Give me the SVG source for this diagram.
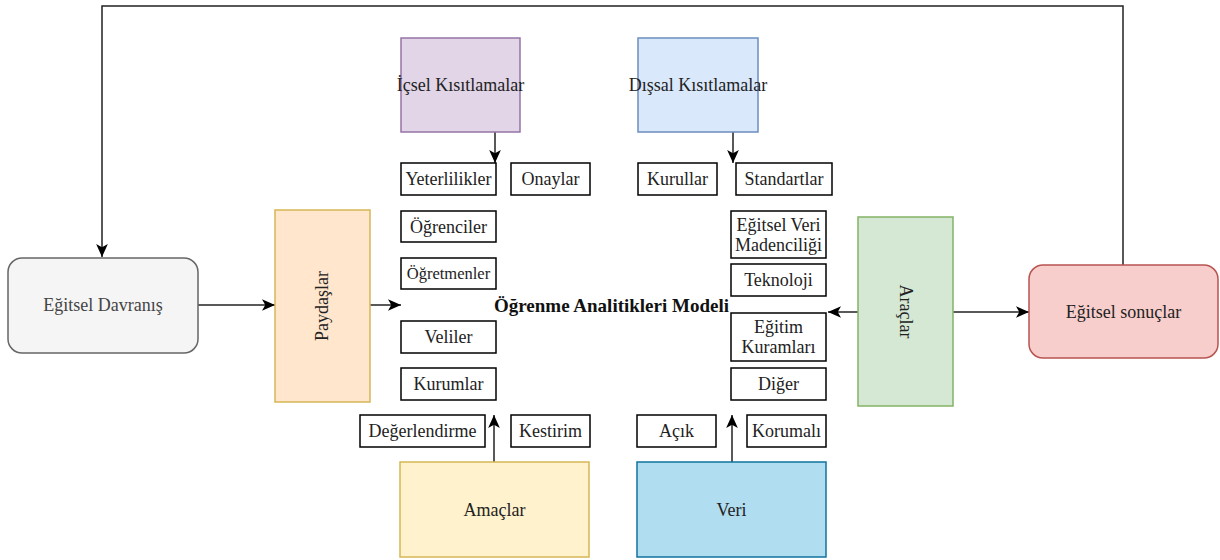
<svg xmlns="http://www.w3.org/2000/svg" width="1220" height="560" viewBox="0 0 1220 560">
  <defs>
    <marker id="arrow" viewBox="0 0 10 10" refX="10" refY="5" markerWidth="13" markerHeight="13" markerUnits="userSpaceOnUse" orient="auto">
      <path d="M0,0.5 L10,5 L0,9.5 L2.5,5 Z" fill="#000"/>
    </marker>
    <style>
      .item { fill: #fff; stroke: #000; stroke-width: 1.5; }
      .edge { fill: none; stroke: #222; stroke-width: 1.5; }
    </style>
  </defs>
  <rect width="1220" height="560" fill="#fff"/>

  <!-- connectors -->
  <g id="connectors">
    <polyline class="edge" points="1123,265 1123,6 102,6 102,257" marker-end="url(#arrow)"/>
    <line class="edge" x1="198" y1="305" x2="275" y2="305" marker-end="url(#arrow)"/>
    <line class="edge" x1="370" y1="305" x2="401" y2="305" marker-end="url(#arrow)"/>
    <line class="edge" x1="495" y1="132" x2="495" y2="163" marker-end="url(#arrow)"/>
    <line class="edge" x1="733" y1="132" x2="733" y2="163" marker-end="url(#arrow)"/>
    <line class="edge" x1="494" y1="462" x2="494" y2="415" marker-end="url(#arrow)"/>
    <line class="edge" x1="732" y1="462" x2="732" y2="415" marker-end="url(#arrow)"/>
    <line class="edge" x1="858" y1="312" x2="828" y2="312" marker-end="url(#arrow)"/>
    <line class="edge" x1="953" y1="312" x2="1029" y2="312" marker-end="url(#arrow)"/>
  </g>

  <g font-family="Liberation Serif, serif" font-size="18" fill="#222" text-anchor="middle">
  <!-- main nodes -->
  <g id="egitsel-davranis">
    <rect x="8" y="258" width="190" height="95" rx="14" fill="#f5f5f5" stroke="#666" stroke-width="1.5"/>
    <text x="103" y="311" font-family="Liberation Serif, serif" fill="#444">Eğitsel Davranış</text>
  </g>
  <g id="paydaslar">
    <rect x="275" y="210" width="95" height="192" fill="#ffe6cc" stroke="#d6b656" stroke-width="1.5"/>
    <text transform="translate(322 306) rotate(-90)" x="0" y="6" font-family="Liberation Serif, serif">Paydaşlar</text>
  </g>
  <g id="icsel-kisitlamalar">
    <rect x="401" y="38" width="119" height="94" fill="#e1d5e7" stroke="#9673a6" stroke-width="1.5"/>
    <text x="460.5" y="91" font-family="Liberation Serif, serif">İçsel Kısıtlamalar</text>
  </g>
  <g id="dissal-kisitlamalar">
    <rect x="638" y="38" width="120" height="94" fill="#dae8fc" stroke="#6c8ebf" stroke-width="1.5"/>
    <text x="698" y="91" font-family="Liberation Serif, serif">Dışsal Kısıtlamalar</text>
  </g>
  <g id="amaclar">
    <rect x="400" y="462" width="189" height="95" fill="#fff2cc" stroke="#d6b656" stroke-width="1.5"/>
    <text x="494.5" y="515.5" font-family="Liberation Serif, serif">Amaçlar</text>
  </g>
  <g id="veri">
    <rect x="637" y="462" width="189" height="95" fill="#b1ddf0" stroke="#10739e" stroke-width="1.5"/>
    <text x="731.5" y="515.5" font-family="Liberation Serif, serif">Veri</text>
  </g>
  <g id="araclar">
    <rect x="858" y="217" width="95" height="189" fill="#d5e8d4" stroke="#82b366" stroke-width="1.5"/>
    <text transform="translate(905.5 311.5) rotate(90)" x="0" y="6" font-family="Liberation Serif, serif">Araçlar</text>
  </g>
  <g id="egitsel-sonuclar">
    <rect x="1029" y="265" width="189" height="93" rx="14" fill="#f8cecc" stroke="#b85450" stroke-width="1.5"/>
    <text x="1123.5" y="317.5" font-family="Liberation Serif, serif">Eğitsel sonuçlar</text>
  </g>
  <g id="model">
    <text x="611.5" y="312" font-family="Liberation Serif, serif" font-weight="bold" font-size="19" fill="#111">Öğrenme Analitikleri Modeli</text>
  </g>

  <!-- item boxes -->
  <g id="yeterlilikler"><rect class="item" x="401" y="163" width="95" height="32"/><text x="448.5" y="185" font-family="Liberation Serif, serif">Yeterlilikler</text></g>
  <g id="onaylar"><rect class="item" x="511" y="163" width="79" height="32"/><text x="550.5" y="185" font-family="Liberation Serif, serif">Onaylar</text></g>
  <g id="ogrenciler"><rect class="item" x="401" y="211" width="95" height="31"/><text x="448.5" y="232.5" font-family="Liberation Serif, serif">Öğrenciler</text></g>
  <g id="ogretmenler"><rect class="item" x="401" y="258" width="95" height="31"/><text x="448.5" y="279" font-family="Liberation Serif, serif" font-size="16.5">Öğretmenler</text></g>
  <g id="veliler"><rect class="item" x="401" y="321" width="95" height="32"/><text x="448.5" y="343" font-family="Liberation Serif, serif">Veliler</text></g>
  <g id="kurumlar"><rect class="item" x="401" y="368" width="95" height="32"/><text x="448.5" y="390" font-family="Liberation Serif, serif">Kurumlar</text></g>
  <g id="degerlendirme"><rect class="item" x="360" y="415" width="125" height="32"/><text x="422.5" y="437" font-family="Liberation Serif, serif">Değerlendirme</text></g>
  <g id="kestirim"><rect class="item" x="511" y="415" width="79" height="32"/><text x="550.5" y="437" font-family="Liberation Serif, serif">Kestirim</text></g>

  <g id="kurullar"><rect class="item" x="638" y="163" width="79" height="32"/><text x="677.5" y="185" font-family="Liberation Serif, serif">Kurullar</text></g>
  <g id="standartlar"><rect class="item" x="736" y="163" width="96" height="32"/><text x="784" y="185" font-family="Liberation Serif, serif">Standartlar</text></g>
  <g id="egitsel-veri-madenciligi"><rect class="item" x="731" y="211" width="95" height="47"/><text x="778.5" y="231" font-family="Liberation Serif, serif">Eğitsel Veri</text><text x="778.5" y="251" font-family="Liberation Serif, serif">Madenciliği</text></g>
  <g id="teknoloji"><rect class="item" x="731" y="264" width="95" height="32"/><text x="778.5" y="286" font-family="Liberation Serif, serif">Teknoloji</text></g>
  <g id="egitim-kuramlari"><rect class="item" x="731" y="313" width="95" height="48"/><text x="778.5" y="333" font-family="Liberation Serif, serif">Eğitim</text><text x="778.5" y="353" font-family="Liberation Serif, serif">Kuramları</text></g>
  <g id="diger"><rect class="item" x="731" y="368" width="95" height="32"/><text x="778.5" y="390" font-family="Liberation Serif, serif">Diğer</text></g>
  <g id="acik"><rect class="item" x="637" y="415" width="79" height="32"/><text x="676.5" y="437" font-family="Liberation Serif, serif">Açık</text></g>
  <g id="korumali"><rect class="item" x="747" y="415" width="79" height="32"/><text x="786.5" y="437" font-family="Liberation Serif, serif">Korumalı</text></g>
  </g>
</svg>
